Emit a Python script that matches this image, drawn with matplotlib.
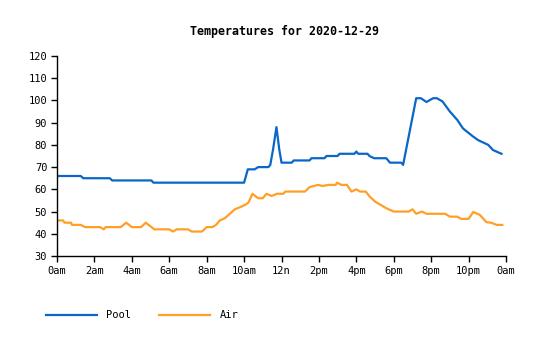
import numpy as np
import matplotlib
matplotlib.use('Agg')
import matplotlib.pyplot as plt

# hours after midnight and readings (deg F)
pool_hours = [0, 1.27, 1.4, 2.82, 2.95, 5.05, 5.15, 10.0, 10.2, 10.57, 10.75, 11.3, 11.4,
              11.55, 11.73, 11.88, 12.0, 12.1, 12.55, 12.65, 13.5, 13.6, 14.3, 14.4, 15.0,
              15.1, 15.9, 16.0, 16.1, 16.6, 16.7, 16.95, 17.6, 17.7, 17.8, 18.4, 18.5, 18.85,
              19.2, 19.45, 19.75, 20.1, 20.3, 20.6, 21.0, 21.4, 21.7, 22.25, 22.5, 23.05,
              23.3, 23.76]
pool_temps = [66, 66, 65, 65, 64, 64, 63, 63, 69, 69, 70, 70, 71,
              78, 88, 78, 72, 72, 72, 73, 73, 74, 74, 75, 75,
              76, 76, 77, 76, 76, 75, 74, 74, 73, 72, 72, 71, 86,
              101, 101, 99.3, 101, 101, 99.6, 95, 91.2, 87.4, 83.7, 82.2, 80,
              77.7, 76]

air_hours = [0, 0.33, 0.4, 0.75, 0.8, 1.27, 1.5, 2.3, 2.5, 2.6, 3.4, 3.7, 4.0, 4.5, 4.74,
             5.05, 5.2, 6.0, 6.2, 6.4, 7.0, 7.2, 7.75, 8.0, 8.3, 8.5, 8.7, 8.97, 9.24, 9.5,
             9.8, 10.05, 10.23, 10.45, 10.75, 11.0, 11.2, 11.47, 11.75, 12.1, 12.2, 13.25,
             13.5, 13.96, 14.2, 14.5, 14.9, 14.97, 15.2, 15.5, 15.74, 16.0, 16.2, 16.5,
             16.72, 17.0, 17.3, 17.6, 18.0, 18.8, 19.0, 19.2, 19.5, 19.75, 20.75, 21.0,
             21.4, 21.6, 22.0, 22.25, 22.6, 22.96, 23.2, 23.5, 23.8]
air_temps = [46, 46, 45, 45, 44, 44, 43, 43, 42, 43, 43, 45, 43, 43, 45,
             43, 42, 42, 41, 42, 42, 41, 41, 43, 43, 44, 46, 47, 49, 51,
             52, 53, 54, 58, 56, 56, 58, 57, 58, 58, 59, 59,
             61, 62, 61.5, 62, 62, 63, 62, 62, 59, 60, 59, 59,
             56.7, 54.5, 53, 51.5, 50, 50, 51, 49, 50, 49, 49, 47.7,
             47.7, 46.7, 46.7, 49.8, 48.5, 45.2, 45, 44, 44]

tick_hours = list(range(0, 25, 2))
tick_labels = ['0am', '2am', '4am', '6am', '8am', '10am', '12n',
               '2pm', '4pm', '6pm', '8pm', '10pm', '0am']

plt.rcParams['font.family'] = ['DejaVu Sans Mono']

fig = plt.figure(figsize=(5.4, 3.4), dpi=100)
ax = fig.add_axes([57/540, 1-256/340, 449/540, 200/340])

ax.plot(pool_hours, pool_temps, color='#0a66c8', lw=1.6, label='Pool')
ax.plot(air_hours, air_temps, color='#ff9f28', lw=1.6, label='Air')

ax.set_xlim(0, 24)
ax.set_ylim(30, 120)
ax.set_xticks(tick_hours)
ax.set_xticklabels(tick_labels)
ax.set_yticks(range(30, 121, 10))
ax.tick_params(labelsize=7.5, length=4, width=1, direction='out', pad=3)
for s in ['top', 'right']:
    ax.spines[s].set_visible(False)
for s in ['left', 'bottom']:
    ax.spines[s].set_linewidth(1)

fig.text(284/540, 1-31/340, 'Temperatures for 2020-12-29', ha='center', va='center',
         fontsize=8.4, fontweight='bold')

ax.legend(loc='upper left', bbox_to_anchor=(-0.045, -0.225), ncol=2, frameon=False,
          fontsize=7.5, handlelength=4.9, handletextpad=0.87, columnspacing=2.7)

plt.savefig('out.png', dpi=100)
plt.close()
